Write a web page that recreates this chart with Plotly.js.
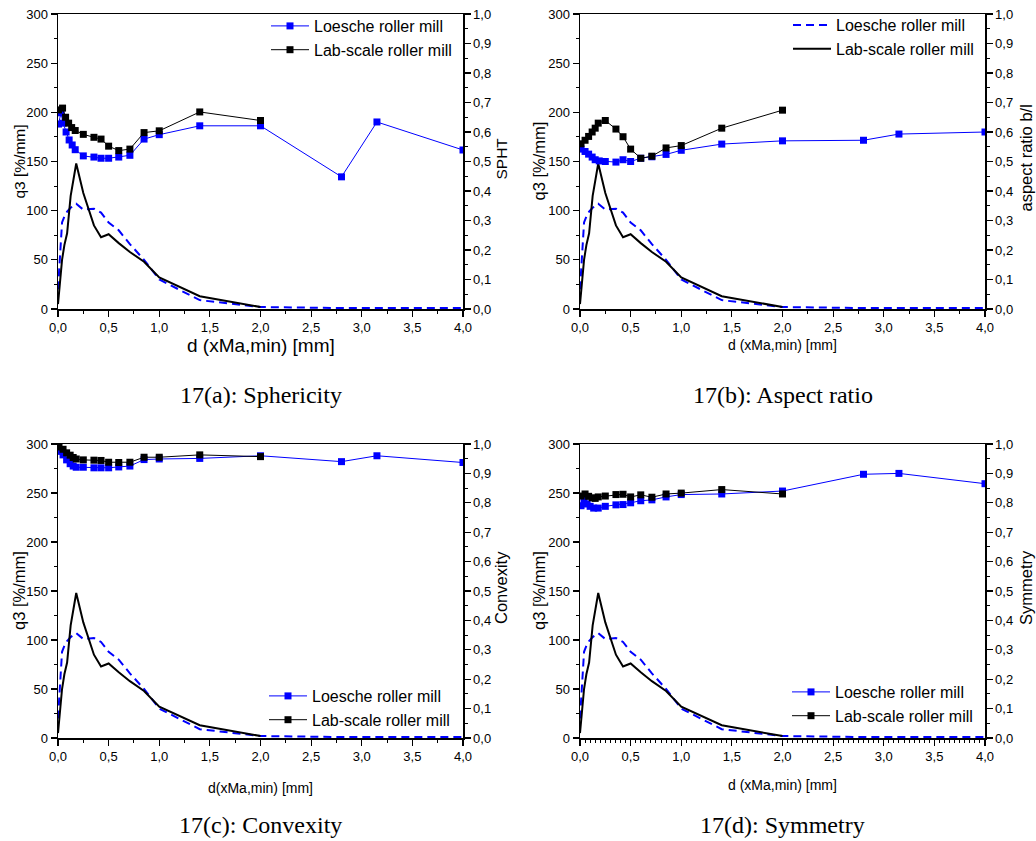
<!DOCTYPE html>
<html><head><meta charset="utf-8">
<script src="https://cdn.plot.ly/plotly-3.0.1.min.js"></script>
<style>html,body{margin:0;padding:0;background:#fff}</style>
</head><body><div id="chart" style="width:1036px;height:841px"></div>
<script>
// ---------- data ----------
const seriesNames = ["Loesche roller mill", "Lab-scale roller mill"];

// particle size distribution q3 [%/mm] (same in all panels)
const dQ3Loesche = [0, 0.02, 0.04, 0.063, 0.09, 0.125, 0.18, 0.25, 0.355, 0.425, 0.5, 0.6, 0.71, 0.85, 1.0, 1.4, 2.0, 2.8, 3.15, 4.0];
const q3Loesche  = [20, 60, 88, 94, 99, 103, 107, 101, 102, 98, 88, 80, 66, 50, 30, 9, 2, 1, 1, 1];
const dQ3Lab     = [0, 0.02, 0.04, 0.063, 0.09, 0.125, 0.18, 0.25, 0.355, 0.425, 0.5, 0.6, 0.71, 0.85, 1.0, 1.4, 2.0];
const q3Lab      = [5, 28, 50, 65, 77, 115, 148, 118, 85, 73, 76, 67, 58, 48, 32, 13, 2];

// (a) sphericity SPHT
const dSphtLoesche = [0.005, 0.03, 0.05, 0.08, 0.11, 0.14, 0.17, 0.25, 0.355, 0.425, 0.5, 0.6, 0.71, 0.85, 1.0, 1.4, 2.0, 2.8, 3.15, 4.0];
const sphtLoesche  = [0.627, 0.665, 0.630, 0.600, 0.573, 0.556, 0.540, 0.519, 0.515, 0.511, 0.511, 0.515, 0.521, 0.576, 0.591, 0.621, 0.621, 0.448, 0.634, 0.539];
const dSphtLab     = [0.005, 0.045, 0.075, 0.105, 0.135, 0.17, 0.25, 0.355, 0.425, 0.5, 0.6, 0.71, 0.85, 1.0, 1.4, 2.0];
const sphtLab      = [0.675, 0.681, 0.650, 0.630, 0.615, 0.605, 0.592, 0.582, 0.576, 0.552, 0.537, 0.542, 0.598, 0.604, 0.668, 0.639];

// (b) aspect ratio b/l
const dArLoesche = [0.01, 0.05, 0.085, 0.12, 0.15, 0.19, 0.25, 0.355, 0.425, 0.5, 0.6, 0.71, 0.85, 1.0, 1.4, 2.0, 2.8, 3.15, 4.0];
const arLoesche  = [0.542, 0.534, 0.525, 0.515, 0.506, 0.502, 0.500, 0.498, 0.506, 0.500, 0.511, 0.516, 0.524, 0.538, 0.559, 0.570, 0.572, 0.593, 0.600];
const dArLab     = [0.01, 0.05, 0.085, 0.12, 0.15, 0.18, 0.25, 0.355, 0.425, 0.5, 0.6, 0.71, 0.85, 1.0, 1.4, 2.0];
const arLab      = [0.560, 0.572, 0.585, 0.600, 0.613, 0.630, 0.639, 0.610, 0.584, 0.542, 0.511, 0.518, 0.546, 0.554, 0.613, 0.674];

// (c) convexity
const dConvLoesche = [0.01, 0.05, 0.085, 0.12, 0.15, 0.18, 0.25, 0.355, 0.425, 0.5, 0.6, 0.71, 0.85, 1.0, 1.4, 2.0, 2.8, 3.15, 4.0];
const convLoesche  = [0.975, 0.963, 0.946, 0.933, 0.925, 0.921, 0.921, 0.919, 0.919, 0.919, 0.922, 0.925, 0.947, 0.949, 0.951, 0.960, 0.940, 0.960, 0.937];
const dConvLab     = [0.01, 0.05, 0.085, 0.12, 0.15, 0.18, 0.25, 0.355, 0.425, 0.5, 0.6, 0.71, 0.85, 1.0, 1.4, 2.0];
const convLab      = [0.990, 0.982, 0.970, 0.962, 0.954, 0.949, 0.946, 0.945, 0.944, 0.938, 0.937, 0.938, 0.955, 0.955, 0.963, 0.957];

// (d) symmetry
const dSymLoesche = [0.01, 0.04, 0.07, 0.1, 0.135, 0.18, 0.25, 0.355, 0.425, 0.5, 0.6, 0.71, 0.85, 1.0, 1.4, 2.0, 2.8, 3.15, 4.0];
const symLoesche  = [0.790, 0.810, 0.796, 0.788, 0.782, 0.782, 0.788, 0.793, 0.794, 0.800, 0.807, 0.810, 0.820, 0.828, 0.830, 0.840, 0.897, 0.900, 0.865];
const dSymLab     = [0.01, 0.05, 0.085, 0.12, 0.15, 0.18, 0.25, 0.355, 0.425, 0.5, 0.6, 0.71, 0.85, 1.0, 1.4, 2.0];
const symLab      = [0.823, 0.830, 0.822, 0.817, 0.815, 0.820, 0.823, 0.828, 0.829, 0.820, 0.827, 0.819, 0.830, 0.833, 0.845, 0.830];

const rightTitles = ["SPHT", "aspect ratio b/l", "Convexity", "Symmetry"];
const leftTitle = "q3 [%/mm]";
const xTitles = ["d (xMa,min) [mm]", "d (xMa,min) [mm]", "d(xMa,min) [mm]", "d (xMa,min) [mm]"];
const captions = ["17(a): Sphericity", "17(b): Aspect ratio", "17(c): Convexity", "17(d): Symmetry"];

// ---------- layout helpers ----------
const W = 1036, H = 841;
const px = v => v / W;
const py = v => 1 - v / H;
const BLUE = "#0000ff", BLACK = "#000000";
const FONT = "Liberation Sans, Arial, sans-serif";

const panels = [
  {box: [58, 463, 14, 309], shapeX: [dSphtLoesche, dSphtLab], shapeY: [sphtLoesche, sphtLab], legendOnShape: true,
   legend: {x: 266, y: 9}, xminor: 0.25, xTitleY: 345, xTitleSize: 19, rtX: 501, ltX: 19, ytSize: 15.5},
  {box: [580, 985, 14, 309], shapeX: [dArLoesche, dArLab], shapeY: [arLoesche, arLab], legendOnShape: false,
   legend: {x: 788, y: 8}, xminor: 0.25, xTitleY: 345, xTitleSize: 14, rtX: 1025, ltX: 538, ytSize: 16.5},
  {box: [58, 463, 444, 738], shapeX: [dConvLoesche, dConvLab], shapeY: [convLoesche, convLab], legendOnShape: true,
   legend: {x: 264, y: 679}, xminor: 0.25, xTitleY: 788, xTitleSize: 14, rtX: 501, ltX: 19, ytSize: 16.5},
  {box: [580, 985, 444, 738], shapeX: [dSymLoesche, dSymLab], shapeY: [symLoesche, symLab], legendOnShape: true,
   legend: {x: 787, y: 675}, xminor: 0.05, xTitleY: 785, xTitleSize: 14, rtX: 1026, ltX: 539, ytSize: 16.5}
];

const traces = [];
const layout = {
  width: W, height: H,
  margin: {l: 0, r: 0, t: 0, b: 0},
  paper_bgcolor: "#fff", plot_bgcolor: "rgba(0,0,0,0)",
  separators: ",.",
  font: {family: FONT, color: BLACK, size: 13},
  annotations: []
};

panels.forEach((p, i) => {
  const n = i + 1;
  const xa = n === 1 ? "x" : "x" + n;
  const yl = "y" + (2 * n - 1 === 1 ? "" : (2 * n - 1));
  const yr = "y" + (2 * n);
  const xKey = n === 1 ? "xaxis" : "xaxis" + n;
  const ylKey = 2 * n - 1 === 1 ? "yaxis" : "yaxis" + (2 * n - 1);
  const yrKey = "yaxis" + (2 * n);
  const legKey = n === 1 ? "legend" : "legend" + n;
  const [x0, x1, y0, y1] = p.box;

  const axBase = {showgrid: false, zeroline: false, showline: true, linecolor: BLACK, linewidth: 1.5,
                  ticks: "outside", ticklen: 6, tickwidth: 1.2, tickcolor: BLACK,
                  tickfont: {family: FONT, size: 13, color: BLACK}, fixedrange: true};

  layout[xKey] = Object.assign({}, axBase, {domain: [px(x0), px(x1)], anchor: yl, range: [0, 4], dtick: 0.5, tick0: 0,
    tickformat: ".1f", mirror: true,
    minor: {dtick: p.xminor, ticks: "outside", ticklen: 3, tickcolor: BLACK, tickwidth: 1}});
  layout[ylKey] = Object.assign({}, axBase, {domain: [py(y1), py(y0)], anchor: xa, range: [0, 300], dtick: 50, tick0: 0,
    minor: {dtick: 25, ticks: "outside", ticklen: 3, tickcolor: BLACK, tickwidth: 1}});
  layout[yrKey] = Object.assign({}, axBase, {overlaying: yl, side: "right", anchor: xa, range: [0, 1], dtick: 0.1, tick0: 0,
    tickformat: ".1f",
    minor: {dtick: 0.05, ticks: "outside", ticklen: 3, tickcolor: BLACK, tickwidth: 1}});

  layout[legKey] = {x: px(p.legend.x), y: py(p.legend.y), xanchor: "left", yanchor: "top",
    bgcolor: "rgba(0,0,0,0)", borderwidth: 0, font: {family: FONT, size: 16, color: BLACK},
    itemwidth: 38, tracegroupgap: 0, traceorder: "normal"};

  // q3 curves
  traces.push({x: dQ3Loesche, y: q3Loesche, xaxis: xa, yaxis: yl, type: "scatter", mode: "lines",
    name: seriesNames[0], line: {color: BLUE, width: 2, dash: "8px,5px"},
    showlegend: !p.legendOnShape, legend: legKey, hoverinfo: "skip"});
  traces.push({x: dQ3Lab, y: q3Lab, xaxis: xa, yaxis: yl, type: "scatter", mode: "lines",
    name: seriesNames[1], line: {color: BLACK, width: 2},
    showlegend: !p.legendOnShape, legend: legKey, hoverinfo: "skip"});
  // shape descriptor curves
  traces.push({x: p.shapeX[0], y: p.shapeY[0], xaxis: xa, yaxis: yr, type: "scatter", mode: "lines+markers",
    name: seriesNames[0], line: {color: BLUE, width: 1}, marker: {symbol: "square", size: 7, color: BLUE},
    showlegend: p.legendOnShape, legend: legKey, hoverinfo: "skip"});
  traces.push({x: p.shapeX[1], y: p.shapeY[1], xaxis: xa, yaxis: yr, type: "scatter", mode: "lines+markers",
    name: seriesNames[1], line: {color: BLACK, width: 1}, marker: {symbol: "square", size: 7, color: BLACK},
    showlegend: p.legendOnShape, legend: legKey, hoverinfo: "skip"});

  const cx = (x0 + x1) / 2, cy = (y0 + y1) / 2;
  layout.annotations.push({text: xTitles[i], xref: "paper", yref: "paper", x: px(cx), y: py(p.xTitleY),
    xanchor: "center", yanchor: "middle", showarrow: false, font: {family: FONT, size: p.xTitleSize, color: BLACK}});
  layout.annotations.push({text: leftTitle, xref: "paper", yref: "paper", x: px(p.ltX), y: py(cy),
    xanchor: "center", yanchor: "middle", textangle: -90, showarrow: false, font: {family: FONT, size: p.ytSize, color: BLACK}});
  layout.annotations.push({text: rightTitles[i], xref: "paper", yref: "paper", x: px(p.rtX), y: py(cy - 3),
    xanchor: "center", yanchor: "middle", textangle: -90, showarrow: false, font: {family: FONT, size: p.ytSize, color: BLACK}});
  layout.annotations.push({text: captions[i], xref: "paper", yref: "paper", x: px(cx), y: py(y1 + (i < 2 ? 86 : 87)),
    xanchor: "center", yanchor: "middle", showarrow: false, font: {family: "Liberation Serif, DejaVu Serif, serif", size: 24, color: BLACK}});
});

Plotly.newPlot("chart", traces, layout, {staticPlot: true, displayModeBar: false});
</script></body></html>
